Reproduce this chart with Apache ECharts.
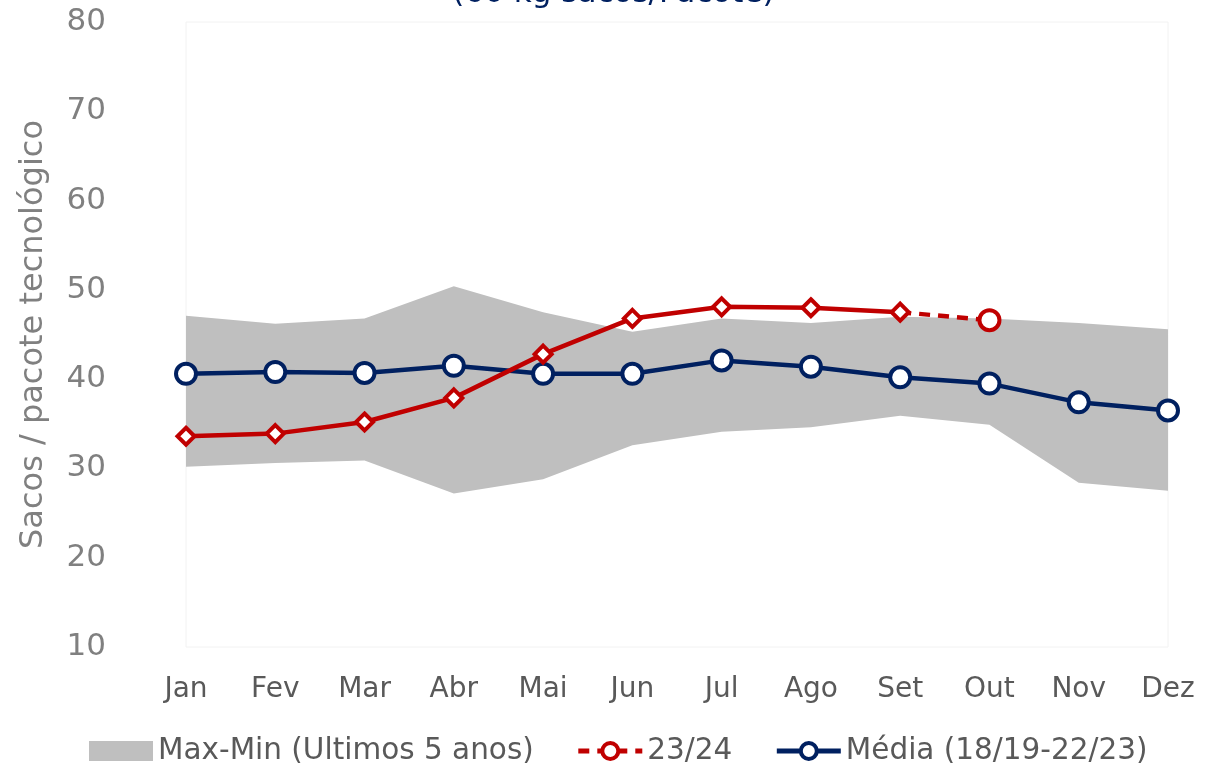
<!DOCTYPE html>
<html>
<head>
<meta charset="utf-8">
<script src="https://cdn.jsdelivr.net/npm/echarts@6/dist/echarts.min.js"></script>
<style>
  html, body { margin: 0; padding: 0; background: #fff; }
  #chart { width: 1227px; height: 773px; }
</style>
</head>
<body>
<div id="chart"></div>
<script>
// meses
const months = ['Jan', 'Fev', 'Mar', 'Abr', 'Mai', 'Jun', 'Jul', 'Ago', 'Set', 'Out', 'Nov', 'Dez']

// faixa max-min dos ultimos 5 anos
const bandMax = [47.1, 46.2, 46.8, 50.4, 47.5, 45.3, 46.8, 46.3, 47.0, 46.8, 46.3, 45.6]
const bandMin = [30.2, 30.6, 30.9, 27.2, 28.8, 32.6, 34.1, 34.6, 35.9, 34.9, 28.4, 27.5]

// safra 23/24 (realizado ate Set, Out projetado)
const safra2324 = [33.6, 33.9, 35.2, 37.9, 42.8, 46.8, 48.1, 48.0, 47.5, null, null, null]
const safra2324Proj = [null, null, null, null, null, null, null, null, 47.5, 46.6, null, null]

// media 18/19-22/23
const media = [40.6, 40.8, 40.7, 41.5, 40.6, 40.6, 42.1, 41.4, 40.2, 39.5, 37.4, 36.5]

const yTicks = [10, 20, 30, 40, 50, 60, 70, 80]

const RED = '#c00000'
const NAVY = '#002060'
const FONT = 'DejaVu Sans'

const chart = echarts.init(document.getElementById('chart'))

const bandDiff = bandMax.map((v, i) => +(v - bandMin[i]).toFixed(2))

const option = {
  animation: false,
  backgroundColor: '#fff',
  title: {
    text: '(60 kg sacos/Pacote)',
    left: 'center',
    top: -27,
    textStyle: { color: NAVY, fontFamily: FONT, fontSize: 31, fontWeight: 'normal' }
  },
  grid: {
    left: 186,
    right: 59,
    top: 22,
    bottom: 126,
    show: true,
    borderColor: '#f2f2f2',
    borderWidth: 1
  },
  legend: {
    bottom: 2,
    left: 84,
    itemWidth: 64,
    itemHeight: 20,
    itemGap: 42,
    textStyle: { color: '#595959', fontFamily: FONT, fontSize: 29.5 },
    data: [
      { name: 'Max-Min (Ultimos 5 anos)', icon: 'rect' },
      { name: '23/24', lineStyle: { width: 5 }, itemStyle: { borderWidth: 4 } },
      { name: 'Média (18/19-22/23)', lineStyle: { width: 5 }, itemStyle: { borderWidth: 4 } }
    ]
  },
  xAxis: {
    type: 'category',
    data: months,
    boundaryGap: false,
    axisLine: { show: false },
    axisTick: { show: false },
    axisLabel: { color: '#595959', fontFamily: FONT, fontSize: 28, margin: 29 },
    splitLine: { show: false }
  },
  yAxis: {
    type: 'value',
    min: yTicks[0],
    max: yTicks[yTicks.length - 1],
    interval: 10,
    name: 'Sacos / pacote tecnológico',
    nameLocation: 'middle',
    nameGap: 136,
    nameTextStyle: { color: '#808080', fontFamily: FONT, fontSize: 32 },
    axisLine: { show: false },
    axisTick: { show: false },
    axisLabel: { color: '#808080', fontFamily: FONT, fontSize: 31, margin: 80 },
    splitLine: { show: false }
  },
  series: [
    {
      name: 'base',
      type: 'line',
      stack: 'band',
      data: bandMin,
      symbol: 'none',
      lineStyle: { opacity: 0 },
      areaStyle: { color: 'rgba(0,0,0,0)' },
      silent: true
    },
    {
      name: 'Max-Min (Ultimos 5 anos)',
      type: 'line',
      stack: 'band',
      data: bandDiff,
      symbol: 'none',
      itemStyle: { color: '#bfbfbf' },
      lineStyle: { opacity: 0 },
      areaStyle: { color: '#bfbfbf', opacity: 1 }
    },
    {
      name: 'Média (18/19-22/23)',
      type: 'line',
      data: media,
      symbol: 'circle',
      symbolSize: 20,
      itemStyle: { color: '#fff', borderColor: NAVY, borderWidth: 4 },
      lineStyle: { color: NAVY, width: 4.5 },
      z: 3
    },
    {
      name: '23/24',
      type: 'line',
      data: safra2324Proj.map((v, i) => (i === 8 ? { value: v, symbol: 'none' } : v)),
      symbol: 'circle',
      symbolSize: 20,
      itemStyle: { color: '#fff', borderColor: RED, borderWidth: 4 },
      lineStyle: { color: RED, width: 4.5, type: [11, 8] },
      z: 4
    },
    {
      name: '23/24 realizado',
      type: 'line',
      data: safra2324,
      symbol: 'diamond',
      symbolSize: 17,
      itemStyle: { color: '#fff', borderColor: RED, borderWidth: 4 },
      lineStyle: { color: RED, width: 4.5 },
      z: 5
    }
  ]
}

chart.setOption(option)
</script>
</body>
</html>
